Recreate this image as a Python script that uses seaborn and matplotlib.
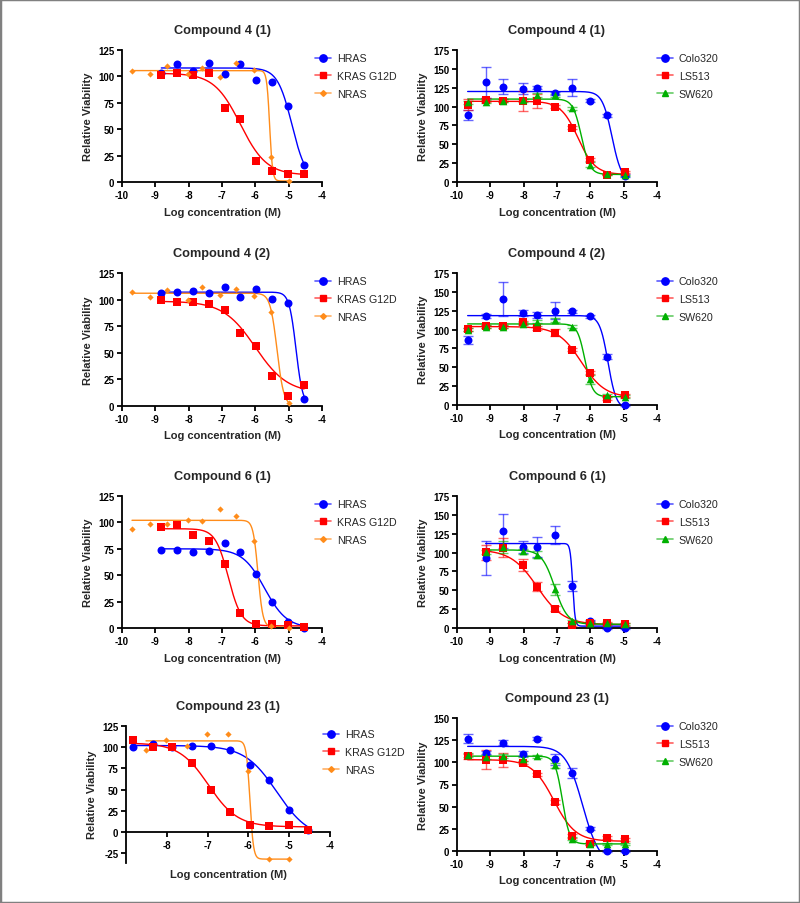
import numpy as np
import matplotlib
matplotlib.use("Agg")
import matplotlib.pyplot as plt
import seaborn as sns
from matplotlib.lines import Line2D
from matplotlib.patches import Rectangle

# log concentrations (M)
x_ras = [-8.82, -8.34, -7.87, -7.39, -6.92, -6.45, -5.97, -5.49, -5.01, -4.54]
x_nras = [-9.70, -9.17, -8.65, -8.02, -7.60, -7.07, -6.57, -6.05, -5.52, -4.99]
x_nras_23 = [-8.51, -8.02, -7.51, -7.02, -6.51, -6.01, -5.50, -5.01]
x_cell = [-9.68, -9.14, -8.62, -8.02, -7.59, -7.07, -6.54, -6.02, -5.50, -4.97]
x_cell_6 = x_cell[1:]

# fit params: top, bottom, logIC50, hill
# Compound 4 (1) - RAS lines
c4a_hras = [103, 112, 105, 112.7, 102.7, 111.5, 97, 94.8, 72, 16.3]
c4a_hras_fit = [108, 0, -4.9, 2.0]
c4a_kras = [101, 103.3, 101, 103.3, 70, 59.4, 19.5, 10, 7.9, 7.2]
c4a_kras_fit = [103, 6.5, -6.45, 1.1]
c4a_nras = [105.2, 102.7, 110, 101.8, 108.4, 99.6, 113, 106.5, 23.9, 1.3]
c4a_nras_fit = [105.5, 1, -5.57, 10]
# Compound 4 (1) - CRC lines
c4a_colo = [88.8, 132, 126.6, 123.6, 124.9, 117.4, 124.9, 107.7, 88.8, 8.4]
c4a_colo_err = [7, 21, 10, 7, 2, 2, 11, 2, 2, 2]
c4a_colo_fit = [120, 0, -5.35, 3]
c4a_ls513 = [102.5, 108.6, 107.7, 107.7, 107.7, 99.8, 72.1, 29.5, 9.7, 13.2]
c4a_ls513_err = [7, 3, 2, 13, 9, 2, 2, 2, 1, 1]
c4a_ls513_fit = [107, 10, -6.37, 1.69]
c4a_sw620 = [106, 106.4, 107.7, 108.5, 115.2, 115.2, 98, 22.9, 10, 8.8]
c4a_sw620_err = [2, 2, 2, 2, 3, 2, 2, 3, 1, 1]
c4a_sw620_fit = [110, 10, -6.265, 3.39]

# Compound 4 (2)
c4b_hras = [106.2, 106.8, 107.7, 106.5, 111.5, 102.7, 110.2, 100.5, 96.4, 6.9]
c4b_hras_fit = [107, 0, -4.78, 4.26]
c4b_kras = [99.6, 97.4, 97.4, 95.8, 90.1, 68.2, 56.5, 28.3, 9.4, 19.8]
c4b_kras_fit = [98.5, 12, -6.0, 0.9]
c4b_nras = [107.4, 102, 109.3, 99.9, 111.5, 104.3, 109.9, 103, 88.6, 3.1]
c4b_nras_fit = [106, 0, -5.35, 4.25]
c4b_colo = [86, 118.3, 140.4, 121.4, 119.6, 124.9, 124, 117.4, 64.2, 0]
c4b_colo_err = [5, 3, 23, 4, 4, 11, 2, 2, 3, 1]
c4b_colo_fit = [118.5, -5, -5.47, 3.5]
c4b_ls513 = [100.6, 104.1, 104.1, 109.4, 102.3, 96.1, 73.1, 43, 8.4, 12.8]
c4b_ls513_err = [2, 2, 2, 2, 3, 4, 2, 2, 2, 2]
c4b_ls513_fit = [104, 10, -6.27, 1.23]
c4b_sw620 = [100, 104, 104, 108, 110.3, 113, 103.7, 34.1, 12.8, 11.1]
c4b_sw620_err = [2, 2, 2, 2, 2, 3, 2, 6, 2, 2]
c4b_sw620_fit = [107.5, 11, -6.16, 3.85]

# Compound 6 (1)
c6_hras = [73.8, 73.8, 71.6, 73.2, 80.4, 72.2, 50.9, 24.8, 5.3, 0]
c6_hras_fit = [75, 0, -5.72, 1.31]
c6_kras = [95.2, 97.7, 88.3, 82.6, 60.6, 14.4, 4.1, 3.5, 2.5, 1.0]
c6_kras_fit = [94, 2, -6.81, 2.24]
c6_nras = [93.6, 98.3, 98.9, 102, 101.1, 112.4, 106.2, 82.6, 2, 0]
c6_nras_fit = [102, 1, -5.92, 6]
c6_colo = [92.8, 128.6, 107.4, 107.4, 123.7, 55.7, 8.8, 0, 0]
c6_colo_err = [22, 22, 7.6, 13, 12, 7, 2, 1, 1]
c6_colo_fit = [112, 2.5, -6.53, 12]
c6_ls513 = [100.7, 106.5, 83, 54.4, 25.6, 4.4, 7, 6.6, 4.9]
c6_ls513_err = [10, 13, 8, 6, 3, 2, 2, 2, 2]
c6_ls513_fit = [104, 4.5, -7.59, 1.1]
c6_sw620 = [101, 107, 101.6, 97.2, 51.3, 8.8, 7, 6, 5]
c6_sw620_err = [3, 8, 3, 5, 7, 2, 1, 1, 1]
c6_sw620_fit = [103.5, 5, -7.07, 2.25]

# Compound 23 (1)
c23_hras = [100.8, 103.5, 100.8, 101.6, 101.6, 97.2, 79.5, 61.8, 26, 2]
c23_hras_fit = [102, -8, -5.3, 1.1]
c23_kras = [108.7, 100.8, 100.8, 81, 49.6, 23.2, 8.3, 6.7, 8.3, 2.8]
c23_kras_fit = [105, 6, -6.98, 1.22]
c23_nras = [96.8, 108.2, 101.6, 116, 116, 71.6, -32.2, -32.2]
c23_nras_fit = [107.5, -32, -5.964, 10]
c23_colo = [126.7, 110.9, 122.2, 109.8, 126.7, 103.4, 88, 25.2, 0, 0]
c23_colo_err = [5, 2, 3, 3, 2, 6, 6, 2, 1, 1]
c23_colo_fit = [118, -15, -6.23, 1.73]
c23_ls513 = [106.8, 103, 103, 99.6, 86.5, 55.3, 16.9, 8.3, 15, 13.2]
c23_ls513_err = [3, 11, 8, 2, 2, 2, 2, 2, 2, 2]
c23_ls513_fit = [103, 11, -7.094, 1.33]
c23_sw620 = [108, 106, 107, 104, 106.8, 96.6, 14, 8, 8.3, 7.5]
c23_sw620_err = [2, 2, 2, 2, 2, 3, 2, 1, 1, 1]
c23_sw620_fit = [107, 8, -6.84, 4]

ras_labels = ["HRAS", "KRAS G12D", "NRAS"]
cell_labels = ["Colo320", "LS513", "SW620"]

# colour, light colour, marker, size
style = {
    "HRAS": ("#0000ff", "#5a5aff", "o", 33),
    "KRAS G12D": ("#ff0000", "#ff6060", "s", 29),
    "NRAS": ("#ff8c1a", "#ffb066", "D", 10),
    "Colo320": ("#0000ff", "#5a5aff", "o", 33),
    "LS513": ("#ff0000", "#ff6060", "s", 29),
    "SW620": ("#00b000", "#66cc66", "^", 30),
}

sns.set_style("ticks")
plt.rcParams["font.family"] = ["Liberation Sans", "DejaVu Sans"]
plt.rcParams["font.weight"] = "bold"
plt.rcParams["axes.unicode_minus"] = False

fig = plt.figure(figsize=(8, 9.04), dpi=100)
W, H = 800, 904


def add_ax(x0, x1, ytop, ybot):
    return fig.add_axes([x0 / W, 1 - ybot / H, (x1 - x0) / W, (ybot - ytop) / H])


def logistic(xs, fit):
    top, bot, ic, hill = fit
    return bot + (top - bot) / (1 + 10 ** ((xs - ic) * hill))


panels = [
    ("Compound 4 (1)", (122, 322, 51, 183), (0, 125), ras_labels,
     [(x_ras, c4a_hras, None, c4a_hras_fit), (x_ras, c4a_kras, None, c4a_kras_fit), (x_nras, c4a_nras, None, c4a_nras_fit)]),
    ("Compound 4 (1)", (457, 657, 51, 183), (0, 175), cell_labels,
     [(x_cell, c4a_colo, c4a_colo_err, c4a_colo_fit), (x_cell, c4a_ls513, c4a_ls513_err, c4a_ls513_fit),
      (x_cell, c4a_sw620, c4a_sw620_err, c4a_sw620_fit)]),
    ("Compound 4 (2)", (122, 322, 274, 407), (0, 125), ras_labels,
     [(x_ras, c4b_hras, None, c4b_hras_fit), (x_ras, c4b_kras, None, c4b_kras_fit), (x_nras, c4b_nras, None, c4b_nras_fit)]),
    ("Compound 4 (2)", (457, 657, 274, 406), (0, 175), cell_labels,
     [(x_cell, c4b_colo, c4b_colo_err, c4b_colo_fit), (x_cell, c4b_ls513, c4b_ls513_err, c4b_ls513_fit),
      (x_cell, c4b_sw620, c4b_sw620_err, c4b_sw620_fit)]),
    ("Compound 6 (1)", (122, 322, 497, 629), (0, 125), ras_labels,
     [(x_ras, c6_hras, None, c6_hras_fit), (x_ras, c6_kras, None, c6_kras_fit), (x_nras, c6_nras, None, c6_nras_fit)]),
    ("Compound 6 (1)", (457, 657, 497, 629), (0, 175), cell_labels,
     [(x_cell_6, c6_colo, c6_colo_err, c6_colo_fit), (x_cell_6, c6_ls513, c6_ls513_err, c6_ls513_fit),
      (x_cell_6, c6_sw620, c6_sw620_err, c6_sw620_fit)]),
    ("Compound 23 (1)", (126, 330, 727, 863.5), (-36, 125), ras_labels,
     [(x_ras, c23_hras, None, c23_hras_fit), (x_ras, c23_kras, None, c23_kras_fit), (x_nras_23, c23_nras, None, c23_nras_fit)]),
    ("Compound 23 (1)", (457, 657, 719, 852), (0, 150), cell_labels,
     [(x_cell, c23_colo, c23_colo_err, c23_colo_fit), (x_cell, c23_ls513, c23_ls513_err, c23_ls513_fit),
      (x_cell, c23_sw620, c23_sw620_err, c23_sw620_fit)]),
]

for i, (title, rect, ylim, labels, series) in enumerate(panels):
    ax = add_ax(*rect)
    x0, x1, ytop, ybot = rect
    last = i == 6
    for lab, (xs, ys, err, fit) in zip(labels, series):
        col, light, mk, sz = style[lab]
        xs = np.array(xs)
        xg = np.linspace(xs.min(), xs.max(), 400)
        sns.lineplot(x=xg, y=logistic(xg, fit), color=col, lw=1.0, ax=ax, zorder=2)
        if err is not None:
            ax.errorbar(xs, ys, yerr=err, fmt="none", ecolor=col, alpha=0.6,
                        elinewidth=1.0, capsize=3.6, capthick=1.0, zorder=3, clip_on=False)
        sns.scatterplot(x=xs, y=ys, color=col, marker=mk, s=sz, linewidth=0,
                        ax=ax, zorder=4, clip_on=False)

    ax.set_xlim(-9 if last else -10, -4)
    ax.set_xticks(range(-8 if last else -10, -3))
    ax.set_ylim(*ylim)
    lo = -25 if last else 0
    ax.set_yticks(range(lo, ylim[1] + 1, 25))
    sns.despine(ax=ax)
    for s in ["left", "bottom"]:
        ax.spines[s].set_linewidth(1.3)
        ax.spines[s].set_color("black")
    if last:
        ax.spines["bottom"].set_position(("data", 0))
    ax.tick_params(direction="out", length=3.5, width=1.3, labelsize=7, pad=2, colors="black")

    ax.set_title(title, fontsize=9.2, fontweight="bold", pad=12)
    ax.set_ylabel("Relative Viability", fontsize=8, fontweight="bold", labelpad=3.5)
    ax.set_xlabel("Log concentration (M)", fontsize=8, fontweight="bold")
    ax.xaxis.set_label_coords(0.5, -(24.5 / (ybot - ytop)) if not last else -(6.5 / (ybot - ytop)))

    handles = []
    for lab in labels:
        col, light, mk, sz = style[lab]
        handles.append(Line2D([], [], color=light, lw=1.2, marker=mk, markersize=np.sqrt(sz) * 0.92,
                              markerfacecolor=col, markeredgecolor=col))
    bx = (315 - x0) / (x1 - x0) if x0 < 400 else 1.0
    if last:
        bx = (323 - x0) / (x1 - x0)
    by = 1 - 3.5 / (ybot - ytop)
    ax.legend(handles, labels, loc="upper left", bbox_to_anchor=(bx, by), frameon=False,
              prop={"size": 7.7, "weight": "normal"}, handlelength=1.45, handletextpad=0.6,
              labelspacing=0.72, borderpad=0, borderaxespad=0)

fig.patches.append(Rectangle((0, 0), 1, 1, transform=fig.transFigure, fill=False,
                             edgecolor="#808080", lw=2.5))

fig.savefig("out.png", dpi=100)
